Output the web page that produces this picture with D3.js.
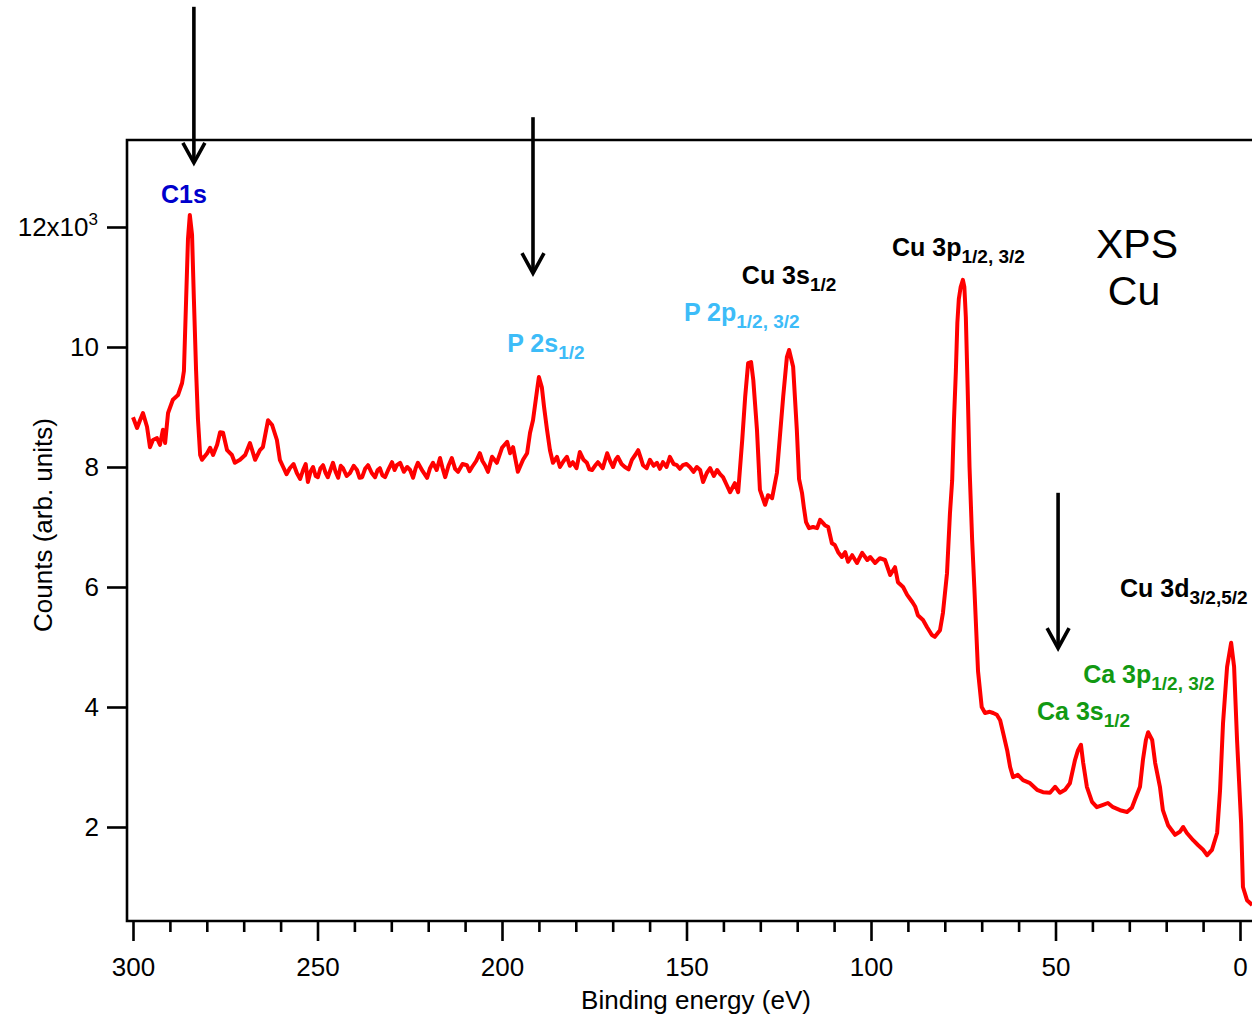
<!DOCTYPE html>
<html><head><meta charset="utf-8">
<script src="https://cdn.jsdelivr.net/npm/d3@7"></script>
<style>html,body{margin:0;padding:0;background:#fff;overflow:hidden}</style>
</head><body>
<svg id="chart" width="1252" height="1020"></svg>
<script>
// ---- DATA ----
const energies = [300.0,298.9,298.1,297.3,296.2,295.4,294.6,293.5,292.7,291.9,291.3,290.5,289.2,287.8,286.7,286.2,285.6,285.1,284.6,284.0,283.5,282.9,282.4,281.8,281.3,279.9,279.1,278.3,277.2,276.4,275.6,274.5,273.2,272.4,271.0,269.6,268.3,266.9,265.6,264.8,263.4,262.3,261.0,260.2,259.3,258.4,257.5,256.5,255.6,254.7,253.9,253.2,252.6,251.9,251.2,250.5,249.9,249.2,248.5,247.8,247.2,246.5,245.8,245.1,244.4,243.7,243.1,242.1,241.2,240.2,239.3,238.6,237.9,237.1,236.3,235.3,234.4,233.7,233.1,232.4,231.7,230.7,229.8,229.1,228.5,227.6,226.6,225.7,224.9,224.1,223.4,222.8,221.5,220.3,219.5,218.7,217.7,216.8,216.1,215.4,214.5,213.6,212.7,211.9,210.7,209.5,208.8,208.1,207.0,206.0,205.3,204.6,203.8,202.7,201.4,200.0,198.6,197.8,197.0,195.7,194.3,193.2,192.4,191.6,190.5,190.0,189.2,188.6,187.8,187.0,186.2,185.1,184.3,183.3,182.4,181.6,180.8,179.8,178.9,177.9,177.0,176.3,175.6,174.8,174.0,172.7,171.5,170.7,169.9,169.2,168.6,167.6,166.7,165.7,164.8,163.9,163.1,162.4,161.8,160.8,159.9,158.9,158.0,157.2,156.4,155.4,154.5,153.5,152.6,151.8,151.0,150.0,149.1,148.1,147.2,146.3,145.5,144.5,143.6,142.6,141.7,140.9,140.1,139.1,138.2,136.9,136.0,134.9,134.1,133.3,132.5,131.9,130.9,130.1,128.7,127.9,126.8,125.5,124.7,123.8,122.8,122.2,121.1,120.1,119.5,118.7,118.2,117.6,116.8,115.7,114.6,113.8,112.5,111.6,110.6,109.8,108.9,107.9,107.0,106.2,105.1,103.8,102.4,101.0,100.2,98.9,97.6,96.2,94.8,93.5,92.7,91.3,90.2,88.8,88.0,87.3,85.9,84.8,83.5,82.7,81.3,80.5,79.4,78.6,78.0,77.5,77.0,76.6,76.2,75.7,75.1,74.7,74.3,73.8,73.3,72.6,72.0,71.5,71.0,70.5,70.0,69.1,67.8,66.9,65.9,65.0,64.2,63.1,62.3,61.5,60.2,58.8,56.9,55.0,53.4,51.5,50.1,48.8,47.4,46.1,44.7,43.9,43.1,42.5,41.5,40.1,38.8,37.1,35.8,34.4,32.5,30.6,29.3,28.5,27.1,26.3,25.5,24.9,23.8,23.0,21.7,20.9,19.5,17.6,16.3,15.4,14.4,12.7,11.4,10.0,8.9,7.6,6.2,5.4,4.6,3.5,2.4,1.6,0.8,-0.3,-0.8,-1.9,-3.3];
const countsK = [8.83,8.65,8.78,8.90,8.67,8.33,8.45,8.48,8.37,8.62,8.40,8.90,9.12,9.20,9.40,9.60,10.8,11.8,12.2,11.87,10.8,9.6,8.8,8.2,8.12,8.23,8.32,8.20,8.37,8.58,8.57,8.28,8.20,8.07,8.12,8.20,8.40,8.12,8.28,8.33,8.78,8.70,8.45,8.12,8.00,7.88,7.98,8.05,7.90,7.80,7.95,8.05,7.75,7.92,8.00,7.85,7.83,7.98,8.03,7.90,7.83,7.95,8.07,7.92,7.82,8.02,7.98,7.85,7.90,8.02,7.95,7.82,7.83,7.97,8.03,7.90,7.83,7.95,7.98,7.86,7.83,7.97,8.08,7.95,8.03,8.07,7.92,8.00,7.95,7.82,7.98,8.07,7.93,7.82,7.98,8.07,7.95,8.15,7.98,7.83,8.02,8.15,7.97,7.92,8.05,8.03,7.93,8.00,8.10,8.23,8.10,8.03,7.92,8.17,8.07,8.32,8.42,8.23,8.33,7.92,8.12,8.23,8.57,8.78,9.28,9.50,9.33,9.00,8.62,8.28,8.07,8.17,8.00,8.10,8.17,8.02,8.08,7.98,8.25,8.12,8.07,7.96,7.95,8.02,8.08,7.98,8.23,8.10,8.00,8.12,8.17,8.05,8.00,7.96,8.12,8.20,8.28,8.15,8.03,7.98,8.12,8.02,8.07,7.97,8.08,8.00,8.17,8.05,8.03,7.97,8.03,8.05,8.00,7.92,8.00,7.95,7.75,7.90,7.98,7.85,7.95,7.88,7.83,7.70,7.58,7.73,7.58,8.45,9.17,9.73,9.75,9.45,8.62,7.62,7.37,7.53,7.48,7.90,8.50,9.17,9.83,9.95,9.67,8.62,7.80,7.57,7.33,7.08,6.98,7.00,6.98,7.12,7.03,7.00,6.73,6.70,6.58,6.50,6.58,6.42,6.53,6.40,6.57,6.45,6.50,6.40,6.48,6.45,6.20,6.33,6.08,6.00,5.87,5.75,5.67,5.53,5.45,5.33,5.20,5.17,5.28,5.57,6.23,7.23,7.78,8.8,9.6,10.4,10.8,11.0,11.12,11.0,10.5,9.3,8.0,6.8,6.0,5.3,4.6,4.3,4.0,3.90,3.92,3.90,3.87,3.78,3.57,3.28,3.00,2.83,2.87,2.78,2.73,2.62,2.58,2.57,2.67,2.57,2.62,2.73,3.12,3.28,3.37,3.07,2.67,2.42,2.33,2.37,2.40,2.33,2.28,2.25,2.32,2.45,2.67,3.12,3.45,3.58,3.45,3.07,2.67,2.28,2.03,1.87,1.92,2.00,1.90,1.78,1.70,1.62,1.53,1.62,1.90,2.62,3.73,4.67,5.07,4.67,3.45,2.07,1.00,0.78,0.70];
const xTicksMajor = [300,250,200,150,100,50,0];
const xTicksMinor = [290,280,270,260,240,230,220,210,190,180,170,160,140,130,120,110,90,80,70,60,40,30,20,10];
const yTicks = [2,4,6,8,10,12];
const xTitle = "Binding energy (eV)";
const yTitle = "Counts (arb. units)";
// peak labels: main text, subscript, energy anchor, count anchor (k), colour
const peakLabels = [
  {main:"C1s", sub:"", e:292.4, v:12.4, color:"#0000cc"},
  {main:"P 2s", sub:"1/2", e:198.6, v:9.92, color:"#3dbcf8"},
  {main:"P 2p", sub:"1/2, 3/2", e:150.7, v:10.43, color:"#3dbcf8"},
  {main:"Cu 3s", sub:"1/2", e:135.0, v:11.05, color:"#000000"},
  {main:"Cu 3p", sub:"1/2, 3/2", e:94.3, v:11.52, color:"#000000"},
  {main:"Cu 3d", sub:"3/2,5/2", e:32.5, v:5.83, color:"#000000"},
  {main:"Ca 3p", sub:"1/2, 3/2", e:42.5, v:4.4, color:"#129912"},
  {main:"Ca 3s", sub:"1/2", e:55.0, v:3.78, color:"#129912"}
];
const titleLines = ["XPS","Cu"];
// arrows: energy and top / tip in counts (k)
const arrows = [
  {e:283.5, top:15.67, tip:13.07},
  {e:191.6, top:13.83, tip:11.23},
  {e:49.3, top:7.57, tip:4.98}
];

// ---- LAYOUT ----
const svg = d3.select("#chart");
const font = "'Liberation Sans', Arial, Helvetica, sans-serif";
const pLeft = 127, pTop = 140, pBottom = 921, pRight = 1262;
const x = d3.scaleLinear().domain([300,0]).range([133,1240]);
const y = d3.scaleLinear().domain([0,13.45]).range([947,140]);

svg.append("defs").append("clipPath").attr("id","clip")
  .append("rect").attr("x",pLeft).attr("y",pTop).attr("width",pRight-pLeft).attr("height",pBottom-pTop);

// spectrum
const pts = energies.map((e,i)=>[e,countsK[i]]);
svg.append("path").datum(pts)
  .attr("clip-path","url(#clip)")
  .attr("fill","none").attr("stroke","#ff0000").attr("stroke-width",4)
  .attr("stroke-linejoin","round")
  .attr("d", d3.line().x(d=>x(d[0])).y(d=>y(d[1])));

// frame
svg.append("path")
  .attr("d",`M${pRight},${pTop}H${pLeft}V${pBottom}H${pRight}`)
  .attr("fill","none").attr("stroke","#000").attr("stroke-width",2.6);

// x axis ticks
const xAxisMajor = d3.axisBottom(x).tickValues(xTicksMajor).tickSize(20).tickPadding(17).tickFormat(d3.format("d"));
const gx = svg.append("g").attr("transform",`translate(0,${pBottom})`).call(xAxisMajor);
const xAxisMinor = d3.axisBottom(x).tickValues(xTicksMinor).tickSize(11).tickFormat("");
const gxm = svg.append("g").attr("transform",`translate(0,${pBottom})`).call(xAxisMinor);
[gx,gxm].forEach(g=>{
  g.select(".domain").remove();
  g.selectAll(".tick line").attr("stroke","#000").attr("stroke-width",2.6);
});
gx.selectAll(".tick text").attr("font-family",font).attr("font-size",26).attr("fill","#000");

// y axis ticks
const yAxis = d3.axisLeft(y).tickValues(yTicks).tickSize(20).tickPadding(8).tickFormat(d=>d===12?"":d3.format("d")(d));
const gy = svg.append("g").attr("transform",`translate(${pLeft},0)`).call(yAxis);
gy.select(".domain").remove();
gy.selectAll(".tick line").attr("stroke","#000").attr("stroke-width",2.6);
gy.selectAll(".tick text").attr("font-family",font).attr("font-size",26).attr("fill","#000");
// 12x10^3 label
const t12 = svg.append("text").attr("x",pLeft-29).attr("y",y(12)+9)
  .attr("text-anchor","end").attr("font-family",font).attr("font-size",26).attr("fill","#000");
t12.append("tspan").text("12x10");
t12.append("tspan").attr("font-size",17).attr("dy",-11).text("3");

// axis titles
svg.append("text").attr("x",696).attr("y",1009).attr("text-anchor","middle")
  .attr("font-family",font).attr("font-size",26).text(xTitle);
svg.append("text").attr("transform",`translate(52,525) rotate(-90)`).attr("text-anchor","middle")
  .attr("font-family",font).attr("font-size",26).text(yTitle);

// peak labels
peakLabels.forEach(l=>{
  const t = svg.append("text").attr("x",x(l.e)).attr("y",y(l.v))
    .attr("font-family",font).attr("font-weight","bold").attr("font-size",25).attr("fill",l.color);
  t.append("tspan").text(l.main);
  if(l.sub) t.append("tspan").attr("font-size",19).attr("dy",7).text(l.sub);
});

// title
titleLines.forEach((s,i)=>{
  svg.append("text").attr("x",1137 - (i?3:0)).attr("y",258+i*47).attr("text-anchor","middle")
    .attr("font-family",font).attr("font-size",41).attr("fill","#000").text(s);
});

// arrows
arrows.forEach(a=>{
  const ax = x(a.e), y0 = y(a.top), y1 = y(a.tip);
  svg.append("line").attr("x1",ax).attr("x2",ax).attr("y1",y0).attr("y2",y1-1)
    .attr("stroke","#000").attr("stroke-width",3.6);
  svg.append("path").attr("d",`M${ax-11},${y1-20}L${ax},${y1}L${ax+11},${y1-20}`)
    .attr("fill","none").attr("stroke","#000").attr("stroke-width",3.6).attr("stroke-linejoin","miter");
});
</script>
</body></html>
